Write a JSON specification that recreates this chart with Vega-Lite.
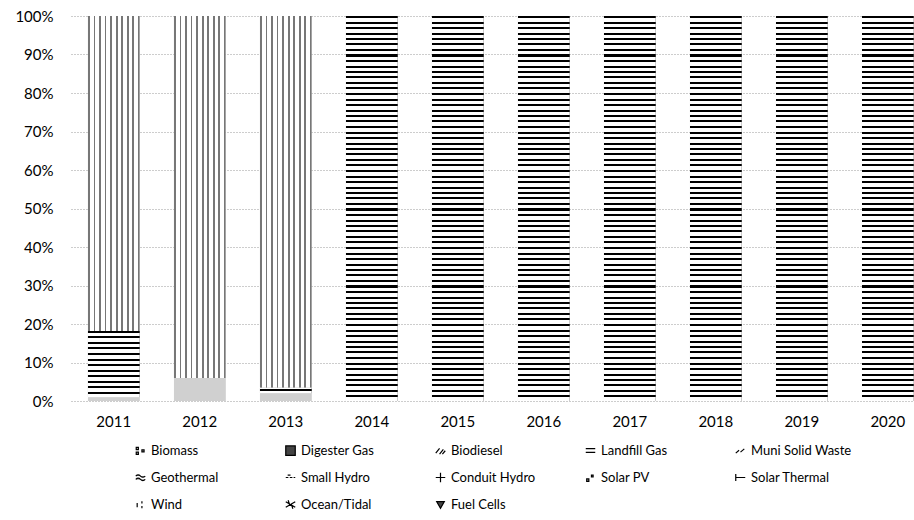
{
  "$schema": "https://vega.github.io/schema/vega-lite/v6.json",
  "width": 843,
  "height": 385,
  "autosize": {"type": "none"},
  "padding": {"left": 71, "top": 16, "right": 0, "bottom": 119},
  "background": "#ffffff",
  "config": {"view": {"stroke": null}},
  "data": {"values": [
    {"year": "2011", "source": "Biomass", "value": 1.0},
    {"year": "2011", "source": "Landfill Gas", "value": 17.2},
    {"year": "2011", "source": "Wind", "value": 81.8},
    {"year": "2012", "source": "Biomass", "value": 6.0},
    {"year": "2012", "source": "Wind", "value": 94.0},
    {"year": "2013", "source": "Biomass", "value": 2.0},
    {"year": "2013", "source": "Landfill Gas", "value": 1.5},
    {"year": "2013", "source": "Wind", "value": 96.5},
    {"year": "2014", "source": "Landfill Gas", "value": 100},
    {"year": "2015", "source": "Landfill Gas", "value": 100},
    {"year": "2016", "source": "Landfill Gas", "value": 100},
    {"year": "2017", "source": "Landfill Gas", "value": 100},
    {"year": "2018", "source": "Landfill Gas", "value": 100},
    {"year": "2019", "source": "Landfill Gas", "value": 100},
    {"year": "2020", "source": "Landfill Gas", "value": 100}
  ]},
  "encoding": {
    "x": {"field": "year", "type": "ordinal",
      "scale": {"paddingInner": 0.4, "paddingOuter": 0.101, "align": 0.977},
      "axis": {"title": null, "labelAngle": 0, "domain": false, "ticks": false, "labelPadding": 13, "labelFont": "Lato", "labelFontSize": 15, "labelColor": "#000000"}},
    "y": {"field": "value", "type": "quantitative", "stack": "normalize",
      "scale": {"domain": [0, 1]},
      "axis": {"title": null, "values": [0, 0.1, 0.2, 0.3, 0.4, 0.5, 0.6, 0.7, 0.8, 0.9, 1], "format": ".0%", "grid": true, "gridDash": [1, 2], "gridColor": "#9a9a9a", "domain": false, "ticks": false, "labelPadding": 18, "labelFont": "Lato", "labelFontSize": 15, "labelColor": "#000000"}},
    "order": {"field": "source", "type": "nominal", "sort": "ascending"}
  },
  "layer": [
    {
      "mark": {"type": "bar"},
      "encoding": {
        "fill": {"field": "source", "type": "nominal",
          "scale": {"domain": ["Biomass", "Digester Gas", "Biodiesel", "Landfill Gas", "Muni Solid Waste", "Geothermal", "Small Hydro", "Conduit Hydro", "Solar PV", "Solar Thermal", "Wind", "Ocean/Tidal", "Fuel Cells"],
            "range": ["#d0d0d0", "#444444", "#777777", "#333333", "#888888", "#777777", "#999999", "#555555", "#aaaaaa", "#555555", "#cccccc", "#666666", "#444444"]},
          "legend": {
            "title": null, "orient": "none", "legendX": 63, "legendY": 428, "direction": "horizontal", "columns": 5, "gridAlign": "all",
            "columnPadding": 31, "rowPadding": 12, "padding": 0, "symbolSize": 90, "labelOffset": 4,
            "labelFont": "Lato", "labelFontSize": 13, "labelColor": "#000000", "labelLimit": 200,
            "encode": {"symbols": {"update": {
              "shape": {"signal": "{'Biomass':'M-0.9,-0.7h0.45v0.45h-0.45zM-0.9,0.3h0.45v0.45h-0.45zM0.3,-0.2h0.45v0.45h-0.45z','Digester Gas':'square','Biodiesel':'M-1,0.5L-0.2,-0.5M-0.2,0.7L0.6,-0.3M0.4,0.7L1,0','Landfill Gas':'M-1,-0.45H1M-1,0.35H1','Muni Solid Waste':'M-1,0.5L-0.3,-0.1M0,0.3L0.8,-0.4','Geothermal':'M-1,-0.3Q-0.5,-0.8 0,-0.3T1,-0.3M-1,0.4Q-0.5,-0.1 0,0.4T1,0.4','Small Hydro':'M-1,0H-0.45M-0.15,0H0.4M0.65,0H1M-0.6,-0.5H0','Conduit Hydro':'M-1,0H1M0,-1V1','Solar PV':'M-0.8,0.3h0.45v0.5h-0.45zM0.2,-0.5h0.35v0.35h-0.35z','Solar Thermal':'M-1,-0.75V0.75M-1,0H1','Wind':'M-0.7,-0.3V0.6M0.3,-0.7V-0.2M0.3,0.3V0.8','Ocean/Tidal':'M-1,-0.6L1,0.6M-1,0.6L1,-0.6M-0.5,-0.9L-0.2,0M0.5,0.9L0.2,0','Fuel Cells':'M-0.8,-0.6H0.8L0,0.8Z'}[datum.value]"},
              "fill": {"value": "#000000"},
              "stroke": {"value": "#000000"},
              "strokeWidth": {"value": 1.2},
              "opacity": {"value": 1}
            }}}
          }
        }
      }
    },
    {
      "mark": {"type": "bar"},
      "encoding": {
        "detail": {"field": "source", "type": "nominal"},
        "fill": {
          "condition": [
            {"test": "datum.source === 'Landfill Gas' && datum.year === '2011'", "value": {"gradient": "linear", "x1": 0, "y1": 0, "x2": 0, "y2": 1, "stops": [
              {"offset":0,"color":"#000"},{"offset":0.03,"color":"#000"},{"offset":0.03,"color":"#fff"},
              {"offset":0.0833,"color":"#fff"},{"offset":0.0833,"color":"#000"},{"offset":0.1133,"color":"#000"},{"offset":0.1133,"color":"#fff"},
              {"offset":0.1667,"color":"#fff"},{"offset":0.1667,"color":"#000"},{"offset":0.1967,"color":"#000"},{"offset":0.1967,"color":"#fff"},
              {"offset":0.25,"color":"#fff"},{"offset":0.25,"color":"#000"},{"offset":0.28,"color":"#000"},{"offset":0.28,"color":"#fff"},
              {"offset":0.3333,"color":"#fff"},{"offset":0.3333,"color":"#000"},{"offset":0.3633,"color":"#000"},{"offset":0.3633,"color":"#fff"},
              {"offset":0.4167,"color":"#fff"},{"offset":0.4167,"color":"#000"},{"offset":0.4467,"color":"#000"},{"offset":0.4467,"color":"#fff"},
              {"offset":0.5,"color":"#fff"},{"offset":0.5,"color":"#000"},{"offset":0.53,"color":"#000"},{"offset":0.53,"color":"#fff"},
              {"offset":0.5833,"color":"#fff"},{"offset":0.5833,"color":"#000"},{"offset":0.6133,"color":"#000"},{"offset":0.6133,"color":"#fff"},
              {"offset":0.6667,"color":"#fff"},{"offset":0.6667,"color":"#000"},{"offset":0.6967,"color":"#000"},{"offset":0.6967,"color":"#fff"},
              {"offset":0.75,"color":"#fff"},{"offset":0.75,"color":"#000"},{"offset":0.78,"color":"#000"},{"offset":0.78,"color":"#fff"},
              {"offset":0.8333,"color":"#fff"},{"offset":0.8333,"color":"#000"},{"offset":0.8633,"color":"#000"},{"offset":0.8633,"color":"#fff"},
              {"offset":0.9167,"color":"#fff"},{"offset":0.9167,"color":"#000"},{"offset":0.9467,"color":"#000"},{"offset":0.9467,"color":"#fff"},
              {"offset":1,"color":"#fff"}]}},
            {"test": "datum.source === 'Landfill Gas' && datum.year === '2013'", "value": {"gradient": "linear", "x1": 0, "y1": 0, "x2": 0, "y2": 1, "stops": [
              {"offset":0,"color":"#fff"},{"offset":0.3,"color":"#fff"},{"offset":0.3,"color":"#000"},{"offset":0.65,"color":"#000"},{"offset":0.65,"color":"#fff"},{"offset":1,"color":"#fff"}]}},
            {"test": "datum.source === 'Landfill Gas'", "value": {"gradient": "linear", "x1": 0, "y1": 0, "x2": 0, "y2": 1, "stops": [
              {"offset":0,"color":"#000"},{"offset":0.0052,"color":"#000"},{"offset":0.0052,"color":"#fff"},
              {"offset":0.0143,"color":"#fff"},{"offset":0.0143,"color":"#000"},{"offset":0.0195,"color":"#000"},{"offset":0.0195,"color":"#fff"},
              {"offset":0.0286,"color":"#fff"},{"offset":0.0286,"color":"#000"},{"offset":0.0338,"color":"#000"},{"offset":0.0338,"color":"#fff"},
              {"offset":0.0429,"color":"#fff"},{"offset":0.0429,"color":"#000"},{"offset":0.0481,"color":"#000"},{"offset":0.0481,"color":"#fff"},
              {"offset":0.0571,"color":"#fff"},{"offset":0.0571,"color":"#000"},{"offset":0.0623,"color":"#000"},{"offset":0.0623,"color":"#fff"},
              {"offset":0.0714,"color":"#fff"},{"offset":0.0714,"color":"#000"},{"offset":0.0766,"color":"#000"},{"offset":0.0766,"color":"#fff"},
              {"offset":0.0857,"color":"#fff"},{"offset":0.0857,"color":"#000"},{"offset":0.0909,"color":"#000"},{"offset":0.0909,"color":"#fff"},
              {"offset":0.1,"color":"#fff"},{"offset":0.1,"color":"#000"},{"offset":0.1052,"color":"#000"},{"offset":0.1052,"color":"#fff"},
              {"offset":0.1143,"color":"#fff"},{"offset":0.1143,"color":"#000"},{"offset":0.1195,"color":"#000"},{"offset":0.1195,"color":"#fff"},
              {"offset":0.1286,"color":"#fff"},{"offset":0.1286,"color":"#000"},{"offset":0.1338,"color":"#000"},{"offset":0.1338,"color":"#fff"},
              {"offset":0.1429,"color":"#fff"},{"offset":0.1429,"color":"#000"},{"offset":0.1481,"color":"#000"},{"offset":0.1481,"color":"#fff"},
              {"offset":0.1571,"color":"#fff"},{"offset":0.1571,"color":"#000"},{"offset":0.1623,"color":"#000"},{"offset":0.1623,"color":"#fff"},
              {"offset":0.1714,"color":"#fff"},{"offset":0.1714,"color":"#000"},{"offset":0.1766,"color":"#000"},{"offset":0.1766,"color":"#fff"},
              {"offset":0.1857,"color":"#fff"},{"offset":0.1857,"color":"#000"},{"offset":0.1909,"color":"#000"},{"offset":0.1909,"color":"#fff"},
              {"offset":0.2,"color":"#fff"},{"offset":0.2,"color":"#000"},{"offset":0.2052,"color":"#000"},{"offset":0.2052,"color":"#fff"},
              {"offset":0.2143,"color":"#fff"},{"offset":0.2143,"color":"#000"},{"offset":0.2195,"color":"#000"},{"offset":0.2195,"color":"#fff"},
              {"offset":0.2286,"color":"#fff"},{"offset":0.2286,"color":"#000"},{"offset":0.2338,"color":"#000"},{"offset":0.2338,"color":"#fff"},
              {"offset":0.2429,"color":"#fff"},{"offset":0.2429,"color":"#000"},{"offset":0.2481,"color":"#000"},{"offset":0.2481,"color":"#fff"},
              {"offset":0.2571,"color":"#fff"},{"offset":0.2571,"color":"#000"},{"offset":0.2623,"color":"#000"},{"offset":0.2623,"color":"#fff"},
              {"offset":0.2714,"color":"#fff"},{"offset":0.2714,"color":"#000"},{"offset":0.2766,"color":"#000"},{"offset":0.2766,"color":"#fff"},
              {"offset":0.2857,"color":"#fff"},{"offset":0.2857,"color":"#000"},{"offset":0.2909,"color":"#000"},{"offset":0.2909,"color":"#fff"},
              {"offset":0.3,"color":"#fff"},{"offset":0.3,"color":"#000"},{"offset":0.3052,"color":"#000"},{"offset":0.3052,"color":"#fff"},
              {"offset":0.3143,"color":"#fff"},{"offset":0.3143,"color":"#000"},{"offset":0.3195,"color":"#000"},{"offset":0.3195,"color":"#fff"},
              {"offset":0.3286,"color":"#fff"},{"offset":0.3286,"color":"#000"},{"offset":0.3338,"color":"#000"},{"offset":0.3338,"color":"#fff"},
              {"offset":0.3429,"color":"#fff"},{"offset":0.3429,"color":"#000"},{"offset":0.3481,"color":"#000"},{"offset":0.3481,"color":"#fff"},
              {"offset":0.3571,"color":"#fff"},{"offset":0.3571,"color":"#000"},{"offset":0.3623,"color":"#000"},{"offset":0.3623,"color":"#fff"},
              {"offset":0.3714,"color":"#fff"},{"offset":0.3714,"color":"#000"},{"offset":0.3766,"color":"#000"},{"offset":0.3766,"color":"#fff"},
              {"offset":0.3857,"color":"#fff"},{"offset":0.3857,"color":"#000"},{"offset":0.3909,"color":"#000"},{"offset":0.3909,"color":"#fff"},
              {"offset":0.4,"color":"#fff"},{"offset":0.4,"color":"#000"},{"offset":0.4052,"color":"#000"},{"offset":0.4052,"color":"#fff"},
              {"offset":0.4143,"color":"#fff"},{"offset":0.4143,"color":"#000"},{"offset":0.4195,"color":"#000"},{"offset":0.4195,"color":"#fff"},
              {"offset":0.4286,"color":"#fff"},{"offset":0.4286,"color":"#000"},{"offset":0.4338,"color":"#000"},{"offset":0.4338,"color":"#fff"},
              {"offset":0.4429,"color":"#fff"},{"offset":0.4429,"color":"#000"},{"offset":0.4481,"color":"#000"},{"offset":0.4481,"color":"#fff"},
              {"offset":0.4571,"color":"#fff"},{"offset":0.4571,"color":"#000"},{"offset":0.4623,"color":"#000"},{"offset":0.4623,"color":"#fff"},
              {"offset":0.4714,"color":"#fff"},{"offset":0.4714,"color":"#000"},{"offset":0.4766,"color":"#000"},{"offset":0.4766,"color":"#fff"},
              {"offset":0.4857,"color":"#fff"},{"offset":0.4857,"color":"#000"},{"offset":0.4909,"color":"#000"},{"offset":0.4909,"color":"#fff"},
              {"offset":0.5,"color":"#fff"},{"offset":0.5,"color":"#000"},{"offset":0.5052,"color":"#000"},{"offset":0.5052,"color":"#fff"},
              {"offset":0.5143,"color":"#fff"},{"offset":0.5143,"color":"#000"},{"offset":0.5195,"color":"#000"},{"offset":0.5195,"color":"#fff"},
              {"offset":0.5286,"color":"#fff"},{"offset":0.5286,"color":"#000"},{"offset":0.5338,"color":"#000"},{"offset":0.5338,"color":"#fff"},
              {"offset":0.5429,"color":"#fff"},{"offset":0.5429,"color":"#000"},{"offset":0.5481,"color":"#000"},{"offset":0.5481,"color":"#fff"},
              {"offset":0.5571,"color":"#fff"},{"offset":0.5571,"color":"#000"},{"offset":0.5623,"color":"#000"},{"offset":0.5623,"color":"#fff"},
              {"offset":0.5714,"color":"#fff"},{"offset":0.5714,"color":"#000"},{"offset":0.5766,"color":"#000"},{"offset":0.5766,"color":"#fff"},
              {"offset":0.5857,"color":"#fff"},{"offset":0.5857,"color":"#000"},{"offset":0.5909,"color":"#000"},{"offset":0.5909,"color":"#fff"},
              {"offset":0.6,"color":"#fff"},{"offset":0.6,"color":"#000"},{"offset":0.6052,"color":"#000"},{"offset":0.6052,"color":"#fff"},
              {"offset":0.6143,"color":"#fff"},{"offset":0.6143,"color":"#000"},{"offset":0.6195,"color":"#000"},{"offset":0.6195,"color":"#fff"},
              {"offset":0.6286,"color":"#fff"},{"offset":0.6286,"color":"#000"},{"offset":0.6338,"color":"#000"},{"offset":0.6338,"color":"#fff"},
              {"offset":0.6429,"color":"#fff"},{"offset":0.6429,"color":"#000"},{"offset":0.6481,"color":"#000"},{"offset":0.6481,"color":"#fff"},
              {"offset":0.6571,"color":"#fff"},{"offset":0.6571,"color":"#000"},{"offset":0.6623,"color":"#000"},{"offset":0.6623,"color":"#fff"},
              {"offset":0.6714,"color":"#fff"},{"offset":0.6714,"color":"#000"},{"offset":0.6766,"color":"#000"},{"offset":0.6766,"color":"#fff"},
              {"offset":0.6857,"color":"#fff"},{"offset":0.6857,"color":"#000"},{"offset":0.6909,"color":"#000"},{"offset":0.6909,"color":"#fff"},
              {"offset":0.7,"color":"#fff"},{"offset":0.7,"color":"#000"},{"offset":0.7052,"color":"#000"},{"offset":0.7052,"color":"#fff"},
              {"offset":0.7143,"color":"#fff"},{"offset":0.7143,"color":"#000"},{"offset":0.7195,"color":"#000"},{"offset":0.7195,"color":"#fff"},
              {"offset":0.7286,"color":"#fff"},{"offset":0.7286,"color":"#000"},{"offset":0.7338,"color":"#000"},{"offset":0.7338,"color":"#fff"},
              {"offset":0.7429,"color":"#fff"},{"offset":0.7429,"color":"#000"},{"offset":0.7481,"color":"#000"},{"offset":0.7481,"color":"#fff"},
              {"offset":0.7571,"color":"#fff"},{"offset":0.7571,"color":"#000"},{"offset":0.7623,"color":"#000"},{"offset":0.7623,"color":"#fff"},
              {"offset":0.7714,"color":"#fff"},{"offset":0.7714,"color":"#000"},{"offset":0.7766,"color":"#000"},{"offset":0.7766,"color":"#fff"},
              {"offset":0.7857,"color":"#fff"},{"offset":0.7857,"color":"#000"},{"offset":0.7909,"color":"#000"},{"offset":0.7909,"color":"#fff"},
              {"offset":0.8,"color":"#fff"},{"offset":0.8,"color":"#000"},{"offset":0.8052,"color":"#000"},{"offset":0.8052,"color":"#fff"},
              {"offset":0.8143,"color":"#fff"},{"offset":0.8143,"color":"#000"},{"offset":0.8195,"color":"#000"},{"offset":0.8195,"color":"#fff"},
              {"offset":0.8286,"color":"#fff"},{"offset":0.8286,"color":"#000"},{"offset":0.8338,"color":"#000"},{"offset":0.8338,"color":"#fff"},
              {"offset":0.8429,"color":"#fff"},{"offset":0.8429,"color":"#000"},{"offset":0.8481,"color":"#000"},{"offset":0.8481,"color":"#fff"},
              {"offset":0.8571,"color":"#fff"},{"offset":0.8571,"color":"#000"},{"offset":0.8623,"color":"#000"},{"offset":0.8623,"color":"#fff"},
              {"offset":0.8714,"color":"#fff"},{"offset":0.8714,"color":"#000"},{"offset":0.8766,"color":"#000"},{"offset":0.8766,"color":"#fff"},
              {"offset":0.8857,"color":"#fff"},{"offset":0.8857,"color":"#000"},{"offset":0.8909,"color":"#000"},{"offset":0.8909,"color":"#fff"},
              {"offset":0.9,"color":"#fff"},{"offset":0.9,"color":"#000"},{"offset":0.9052,"color":"#000"},{"offset":0.9052,"color":"#fff"},
              {"offset":0.9143,"color":"#fff"},{"offset":0.9143,"color":"#000"},{"offset":0.9195,"color":"#000"},{"offset":0.9195,"color":"#fff"},
              {"offset":0.9286,"color":"#fff"},{"offset":0.9286,"color":"#000"},{"offset":0.9338,"color":"#000"},{"offset":0.9338,"color":"#fff"},
              {"offset":0.9429,"color":"#fff"},{"offset":0.9429,"color":"#000"},{"offset":0.9481,"color":"#000"},{"offset":0.9481,"color":"#fff"},
              {"offset":0.9571,"color":"#fff"},{"offset":0.9571,"color":"#000"},{"offset":0.9623,"color":"#000"},{"offset":0.9623,"color":"#fff"},
              {"offset":0.9714,"color":"#fff"},{"offset":0.9714,"color":"#000"},{"offset":0.9766,"color":"#000"},{"offset":0.9766,"color":"#fff"},
              {"offset":0.9857,"color":"#fff"},{"offset":0.9857,"color":"#000"},{"offset":0.9909,"color":"#000"},{"offset":0.9909,"color":"#fff"},
              {"offset":1,"color":"#fff"}]}},
            {"test": "datum.source === 'Wind'", "value": {"gradient": "linear", "x1": 0, "y1": 0, "x2": 1, "y2": 0, "stops": [
              {"offset":0,"color":"#777"},{"offset":0.035,"color":"#777"},{"offset":0.035,"color":"#fff"},
              {"offset":0.1075,"color":"#fff"},{"offset":0.1075,"color":"#777"},{"offset":0.1425,"color":"#777"},{"offset":0.1425,"color":"#fff"},
              {"offset":0.215,"color":"#fff"},{"offset":0.215,"color":"#777"},{"offset":0.25,"color":"#777"},{"offset":0.25,"color":"#fff"},
              {"offset":0.3225,"color":"#fff"},{"offset":0.3225,"color":"#777"},{"offset":0.3575,"color":"#777"},{"offset":0.3575,"color":"#fff"},
              {"offset":0.43,"color":"#fff"},{"offset":0.43,"color":"#777"},{"offset":0.465,"color":"#777"},{"offset":0.465,"color":"#fff"},
              {"offset":0.5375,"color":"#fff"},{"offset":0.5375,"color":"#777"},{"offset":0.5725,"color":"#777"},{"offset":0.5725,"color":"#fff"},
              {"offset":0.645,"color":"#fff"},{"offset":0.645,"color":"#777"},{"offset":0.68,"color":"#777"},{"offset":0.68,"color":"#fff"},
              {"offset":0.7525,"color":"#fff"},{"offset":0.7525,"color":"#777"},{"offset":0.7875,"color":"#777"},{"offset":0.7875,"color":"#fff"},
              {"offset":0.86,"color":"#fff"},{"offset":0.86,"color":"#777"},{"offset":0.895,"color":"#777"},{"offset":0.895,"color":"#fff"},
              {"offset":0.9675,"color":"#fff"},{"offset":0.9675,"color":"#777"},{"offset":1,"color":"#777"}]}},
            {"test": "datum.source === 'Biomass'", "value": "#d0d0d0"}
          ],
          "value": "#999999"
        }
      }
    }
  ]
}
